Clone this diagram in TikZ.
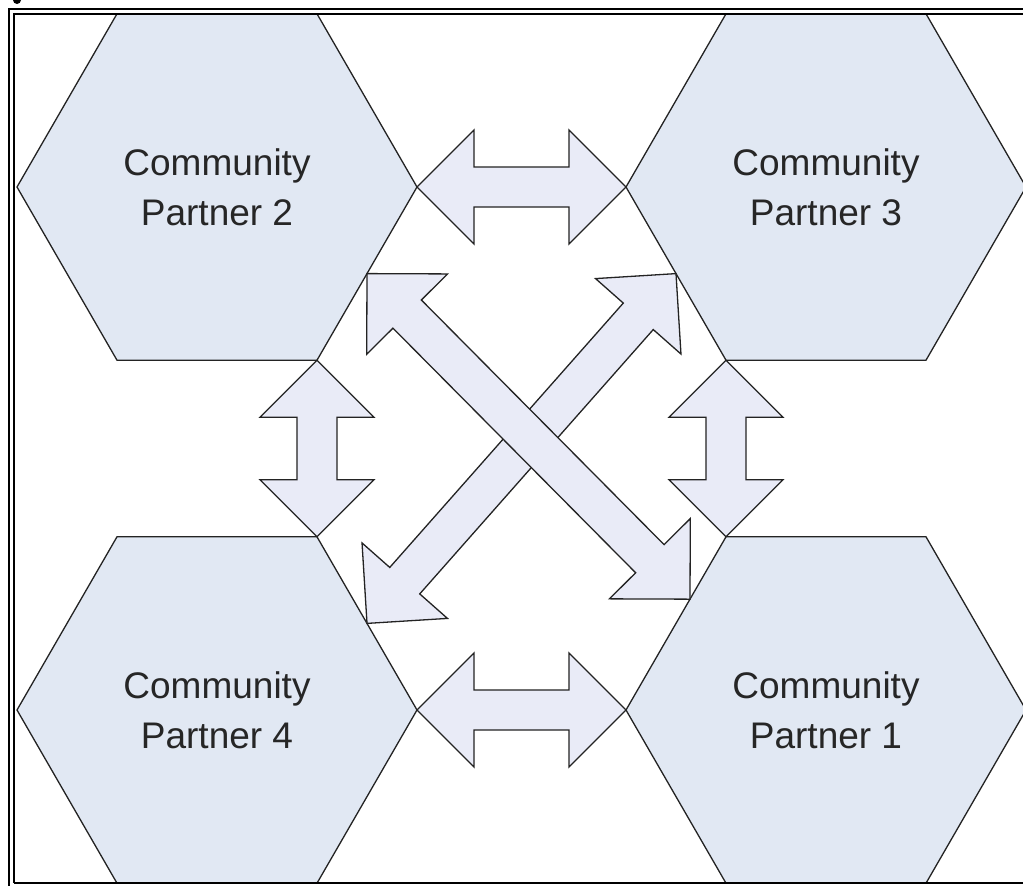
\documentclass[tikz,border=0pt]{standalone}
\usepackage{fontspec}
\setmainfont{Liberation Sans}
\usetikzlibrary{shapes.geometric,calc}
\definecolor{hexfill}{RGB}{225,232,243}
\definecolor{arrfill}{RGB}{233,235,247}
\definecolor{txt}{RGB}{38,38,38}
\definecolor{edgec}{RGB}{35,35,35}
\tikzset{
 hexa/.style={regular polygon, regular polygon sides=6, minimum size=400pt, inner sep=0pt, outer sep=0pt,
   draw=edgec, line width=1.3pt, fill=hexfill, text=txt, font=\fontsize{37}{50}\selectfont, align=center},
 arrowbox/.style={draw=edgec, line width=1.3pt, fill=arrfill, line join=miter},
 frameout/.style={draw=black, line width=2.2pt},
 framein/.style={draw=black, line width=1.6pt}
}
\newcommand\dblarrow[2]{%
 \path (#1) coordinate (ta) (#2) coordinate (tb);
 \path ($(ta)!57pt!(tb)$) coordinate (ha) ($(tb)!57pt!(ta)$) coordinate (hb);
 \draw[arrowbox] (ta) -- ($(ha)!57pt!90:(tb)$) -- ($(ha)!20pt!90:(tb)$) -- ($(hb)!20pt!-90:(ta)$)
   -- ($(hb)!57pt!-90:(ta)$) -- (tb) -- ($(hb)!57pt!90:(ta)$) -- ($(hb)!20pt!90:(ta)$)
   -- ($(ha)!20pt!-90:(tb)$) -- ($(ha)!57pt!-90:(tb)$) -- cycle;}
\begin{document}
\begin{tikzpicture}[x=1pt,y=-1pt]
\useasboundingbox (0,0) rectangle (1023,886);
\fill[white] (0,0) rectangle (1023,886);
\begin{scope}
\clip (14,14) rectangle (1023,883);
\node[hexa] (p2) at (217,187) {Community\\Partner 2};
\node[hexa] (p3) at (826,187) {Community\\Partner 3};
\node[hexa] (p4) at (217,710) {Community\\Partner 4};
\node[hexa] (p1) at (826,710) {Community\\Partner 1};
\dblarrow{p2.0}{p3.180}
\dblarrow{p4.0}{p1.180}
\dblarrow{p2.-60}{p4.60}
\dblarrow{p3.-120}{p1.120}
\coordinate (b1) at (p4.30);
\coordinate (b2) at (p3.210);
\dblarrow{b1}{b2}
\coordinate (a1) at (p2.-30);
\coordinate (a2) at ($(p1.120)!0.36!(p1.180)$);
\dblarrow{a1}{a2}
\end{scope}
\draw[frameout] (9,886) -- (9,9) -- (1023,9);
\draw[framein] (14,883) -- (14,14) -- (1023,14);
\draw[framein] (14,883) -- (1023,883);
\fill[black] (13,0) -- (21,0) arc[start angle=0, end angle=180, x radius=4, y radius=4] -- cycle;
\end{tikzpicture}
\end{document}
